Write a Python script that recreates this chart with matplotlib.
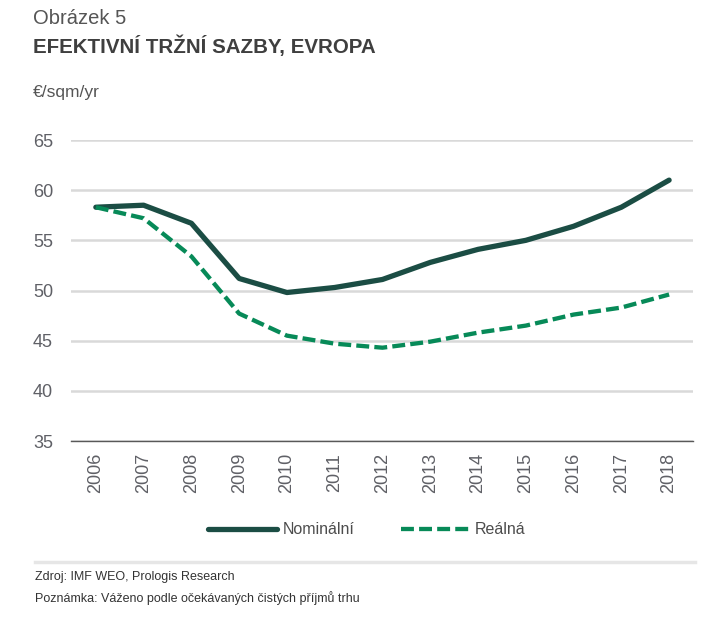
import matplotlib
matplotlib.use("Agg")
import matplotlib.pyplot as plt
from matplotlib.lines import Line2D

years = ["2006", "2007", "2008", "2009", "2010", "2011", "2012",
         "2013", "2014", "2015", "2016", "2017", "2018"]
nominal = [58.3, 58.5, 56.7, 51.2, 49.8, 50.3, 51.1, 52.8, 54.1, 55.0, 56.4, 58.3, 61.0]
real = [58.3, 57.2, 53.4, 47.7, 45.5, 44.7, 44.3, 44.9, 45.8, 46.5, 47.6, 48.3, 49.6]
yticks = [35, 40, 45, 50, 55, 60, 65]

NARROW = ["Liberation Sans Narrow", "Liberation Sans", "DejaVu Sans"]
REG = ["Liberation Sans", "DejaVu Sans"]
TXT = "#4d4d4d"
TICK = "#5f6066"
C_NOM = "#1b4d44"
C_REAL = "#078a58"

W, H = 719, 617
fig = plt.figure(figsize=(W / 100, H / 100), dpi=100)
ax = fig.add_axes([71 / W, 1 - 441 / H, (693 - 71) / W, (441 - 140) / H])

x = list(range(len(years)))
ax.plot(x, nominal, color=C_NOM, lw=3.8, solid_capstyle="round", solid_joinstyle="round",
        label="Nominální", zorder=3)
ax.plot(x, real, color=C_REAL, lw=3.1, ls=(0, (3.0, 1.2)), dash_capstyle="butt",
        label="Reálná", zorder=3)

ax.set_xlim(-0.52, 12.5)
ax.set_ylim(35, 65)
ax.set_yticks(yticks)
ax.set_xticks(x)
ax.set_xticklabels(years, rotation=90, family=NARROW, fontsize=13, color=TICK)
for lab in ax.get_yticklabels():
    lab.set_family(NARROW)
    lab.set_fontsize(13)
    lab.set_color(TICK)
ax.tick_params(axis="x", length=0, pad=8.5)
ax.tick_params(axis="y", length=0, pad=13)
ax.grid(axis="y", color="#d9d9d9", lw=1.8, zorder=0)
ax.set_axisbelow(True)
for s in ["top", "right", "left"]:
    ax.spines[s].set_visible(False)
ax.spines["bottom"].set_color("#595959")
ax.spines["bottom"].set_linewidth(1.0)

fig.text(33 / W, 1 - 18 / H, "Obrázek 5", family=REG, fontsize=14.5, color="#555555", va="center")
fig.text(33 / W, 1 - 46 / H, "EFEKTIVNÍ TRŽNÍ SAZBY, EVROPA", family=REG, fontsize=14.8,
         fontweight="bold", color="#3f3f3f", va="center")
fig.text(33 / W, 1 - 92 / H, "€/sqm/yr", family=REG, fontsize=12.5, color="#555555", va="center")

leg = fig.legend(loc="center", bbox_to_anchor=(367 / W, 1 - 530 / H), ncol=2, frameon=False,
                 prop={"family": NARROW, "size": 11.5}, handlelength=4.3, handletextpad=0.35,
                 columnspacing=2.9)
for t in leg.get_texts():
    t.set_color(TXT)

fig.add_artist(Line2D([35 / W, 695 / W], [1 - 562 / H, 1 - 562 / H], color="#e6e6e6", lw=2.5))
fig.text(35 / W, 1 - 577 / H, "Zdroj: IMF WEO, Prologis Research", family=NARROW, fontsize=9,
         color="#333333", va="center")
fig.text(35 / W, 1 - 598 / H, "Poznámka: Váženo podle očekávaných čistých příjmů trhu", family=NARROW,
         fontsize=9, color="#333333", va="center")

fig.savefig("out.png", dpi=100)
